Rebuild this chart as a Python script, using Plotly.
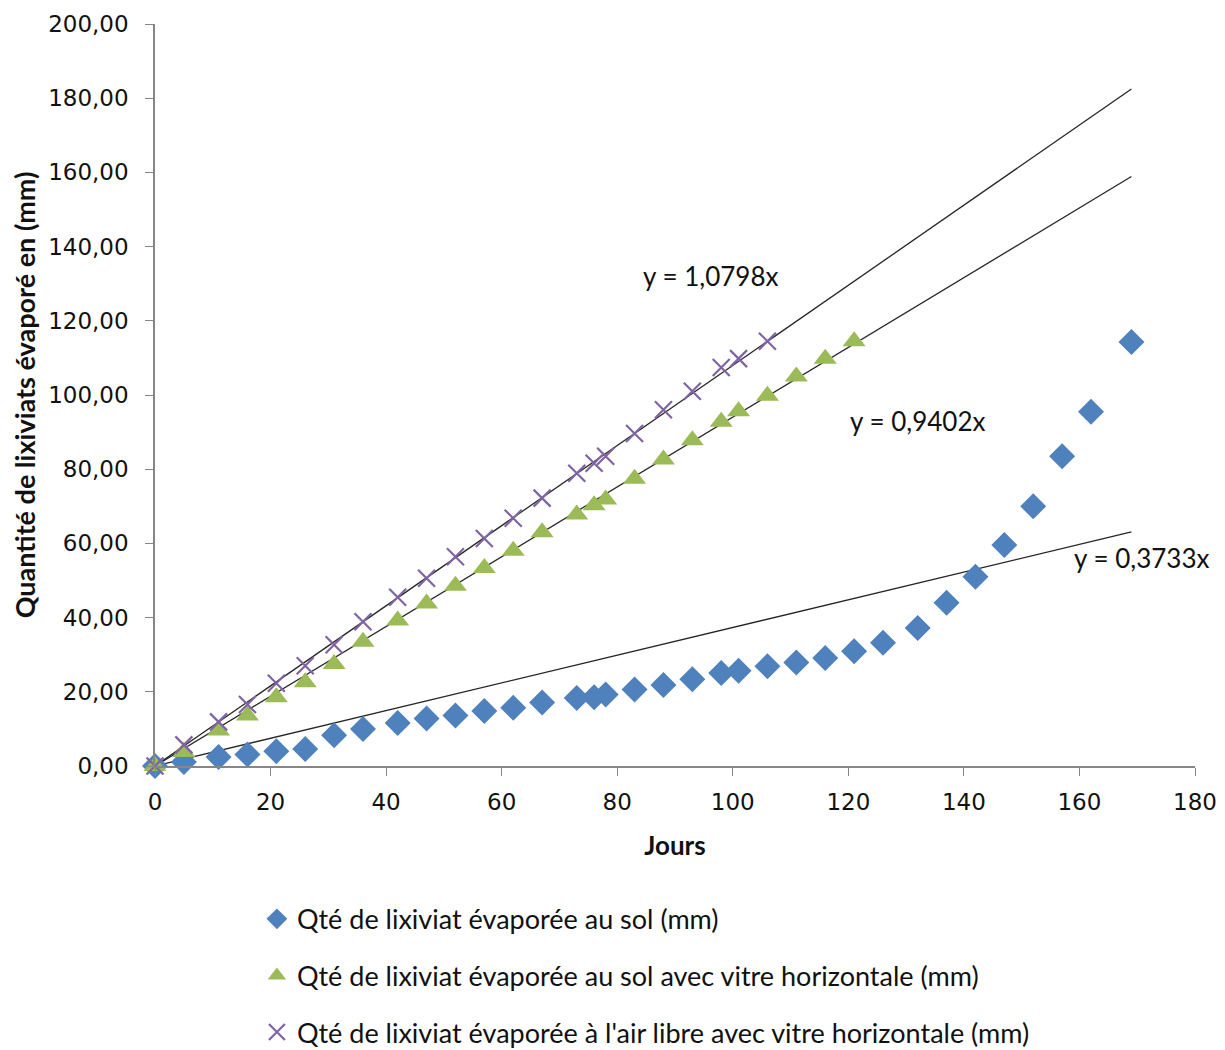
import plotly.graph_objects as go

jours_sol = [0, 5, 11, 16, 21, 26, 31, 36, 42, 47, 52, 57, 62, 67, 73, 76, 78, 83, 88, 93,
             98, 101, 106, 111, 116, 121, 126, 132, 137, 142, 147, 152, 157, 162, 169]
qte_sol = [0, 1.1, 2.4, 3.1, 4.0, 4.6, 8.3, 10.0, 11.6, 12.8, 13.6, 14.8, 15.7, 17.1, 18.3, 18.5,
           19.3, 20.6, 21.8, 23.4, 25.1, 25.7, 26.9, 27.9, 29.1, 30.9, 33.2, 37.2, 44.0, 51.0,
           59.6, 70.0, 83.5, 95.5, 114.3]

jours_vitre = [0, 5, 11, 16, 21, 26, 31, 36, 42, 47, 52, 57, 62, 67, 73, 76, 78, 83, 88, 93,
               98, 101, 106, 111, 116, 121]
qte_vitre = [0, 3.8, 9.6, 13.6, 18.5, 22.6, 27.5, 33.5, 39.2, 43.8, 48.6, 53.4, 58.0, 63.0, 67.8,
             70.3, 71.8, 77.4, 82.6, 87.8, 92.8, 95.6, 99.8, 105.0, 109.8, 114.5]

jours_air = [0, 5, 11, 16, 21, 26, 31, 36, 42, 47, 52, 57, 62, 67, 73, 76, 78, 83, 88, 93,
             98, 101, 106]
qte_air = [0, 5.7, 11.9, 16.6, 22.3, 27.0, 32.7, 38.9, 45.5, 50.6, 56.4, 61.3, 66.8, 72.2, 78.9,
           81.6, 83.5, 89.6, 96.0, 101.0, 107.4, 109.8, 114.5]

noms = [
    "Qté de lixiviat évaporée au sol (mm)",
    "Qté de lixiviat évaporée au sol avec vitre horizontale (mm)",
    "Qté de lixiviat évaporée à l'air libre avec vitre horizontale (mm)",
]
pentes = [0.3733, 0.9402, 1.0798]
etiquettes_pentes = ["y = 0,3733x", "y = 0,9402x", "y = 1,0798x"]
trend_x = [0, 169]

x_ticks = [0, 20, 40, 60, 80, 100, 120, 140, 160, 180]
y_ticks = [0, 20, 40, 60, 80, 100, 120, 140, 160, 180, 200]

BLUE = "#4F81BD"
GREEN = "#9BBB59"
PURPLE = "#8064A2"
TXT_FONT = "Lato, Open Sans, sans-serif"

fig = go.Figure()

# trend lines
for p in pentes:
    fig.add_trace(go.Scatter(
        x=trend_x, y=[p * v for v in trend_x], mode="lines",
        line=dict(color="#262626", width=1.3), showlegend=False, hoverinfo="skip"))

fig.add_trace(go.Scatter(
    x=jours_sol, y=qte_sol, mode="markers", name=noms[0], legendgroup="a",
    marker=dict(symbol="diamond", size=20, color=BLUE), cliponaxis=False))
fig.add_trace(go.Scatter(
    x=jours_vitre, y=qte_vitre, mode="markers", name=noms[1], legendgroup="b",
    marker=dict(symbol="triangle-up", size=20, color=GREEN), cliponaxis=False))
fig.add_trace(go.Scatter(
    x=jours_air, y=qte_air, mode="markers", name=noms[2], legendgroup="c",
    marker=dict(symbol="x-thin", size=17, color=PURPLE, line=dict(color=PURPLE, width=2.2)),
    cliponaxis=False))

# equation labels
label_pos = [(170.8, 56), (132, 93.1), (96.1, 132.2)]
for (lx, ly), txt in zip(label_pos, etiquettes_pentes):
    fig.add_annotation(x=lx, y=ly, text=txt, showarrow=False,
                       font=dict(family=TXT_FONT, size=26, color="#111"))

fig.update_layout(
    width=1225, height=1060,
    margin=dict(l=147, r=38, t=16, b=301),
    paper_bgcolor="white", plot_bgcolor="white",
    separators=", ",
    font=dict(family="DejaVu Sans", color="#111"),
    showlegend=True,
    legend=dict(
        x=0.098, y=-0.172, xanchor="left", yanchor="top",
        orientation="v", tracegroupgap=18.5,
        font=dict(family=TXT_FONT, size=27, color="#111"),
        itemwidth=30,
    ),
)
fig.update_xaxes(
    range=[0, 180], tickvals=x_ticks, ticks="outside", ticklen=8, tickcolor="#868686",
    showline=True, linecolor="#868686", linewidth=1.5, showgrid=False, zeroline=False,
    tickfont=dict(family="DejaVu Sans", size=23, color="#111"), ticklabelstandoff=7,
    automargin=False,
    title=dict(text="<b>Jours</b>", font=dict(family=TXT_FONT, size=26), standoff=22),
)
fig.update_yaxes(
    range=[0, 200], tickvals=y_ticks, tickformat=".2f", ticks="outside", ticklen=8,
    tickcolor="#868686", showline=True, linecolor="#868686", linewidth=1.5,
    showgrid=False, zeroline=False, automargin=False,
    tickfont=dict(family="DejaVu Sans", size=23, color="#111"), ticklabelstandoff=12,
    title=dict(text="<b>Quantité de lixiviats évaporé en (mm)</b>",
               font=dict(family=TXT_FONT, size=27), standoff=12),
)

fig.write_html("out.html")
